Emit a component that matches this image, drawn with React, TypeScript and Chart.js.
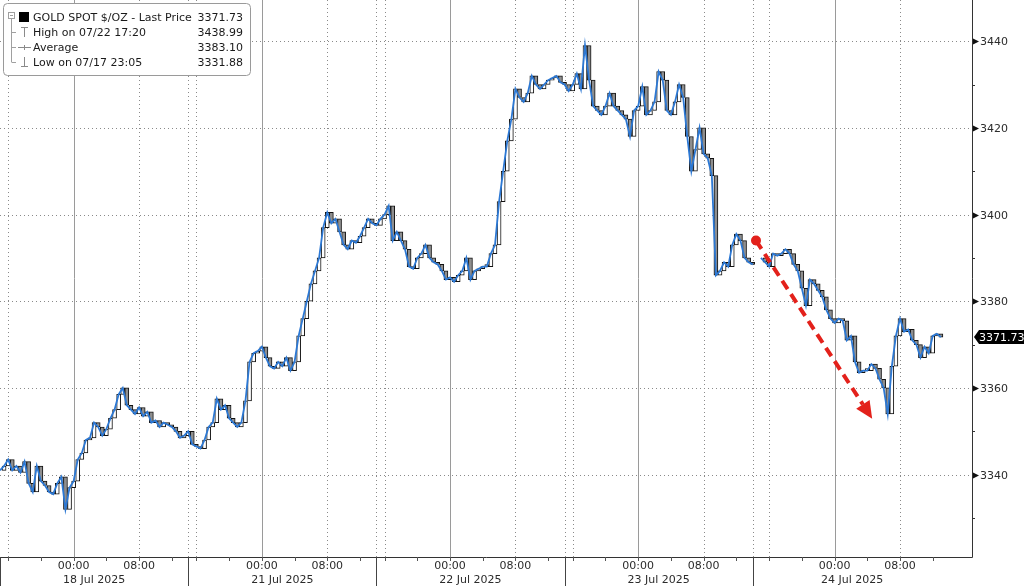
import React, { useEffect, useRef } from "react";
import { Chart, registerables } from "chart.js";

Chart.register(...registerables);

// ---------- DATA ----------
// Trading-hour axis: 0 = 17 Jul 15:00 (session open); one value every half hour of trading.
const STEP_HOURS = 0.5;
const PRICES: (number | null)[] = [
  3341, 3342, 3343.5, 3341, 3342, 3340.5, 3343, 3338, 3336, 3342,
  3338.5, 3337.5, 3336, 3335.5, 3338, 3339.5, 3332, 3337, 3338.5, 3343.5,
  3345, 3348, 3348.5, 3352, 3351, 3349, 3350.5, 3353, 3355, 3358.5,
  3360, 3356, 3355, 3354, 3355.5, 3353.5, 3354.5, 3352, 3352.5, 3351,
  3352, 3351.5, 3351, 3350, 3348.5, 3349, 3350, 3347, 3346.5, 3346,
  3348, 3351, 3352, 3357.5, 3355, 3356, 3353, 3352, 3351, 3352,
  3357, 3366, 3368, 3368.5, 3369.5, 3367, 3365, 3364.5, 3366, 3365,
  3367, 3364, 3366, 3372, 3376, 3380, 3384, 3387, 3390, 3397,
  3400.5, 3398, 3399, 3396, 3393, 3392, 3394, 3393.5, 3395, 3397,
  3399, 3398, 3397.5, 3399, 3400, 3402, 3394, 3396, 3394, 3392,
  3388, 3387.5, 3390, 3391, 3393, 3390, 3389, 3388.5, 3387, 3385,
  3385.5, 3384.5, 3386, 3387, 3390, 3385, 3387, 3387.5, 3388, 3388,
  3391, 3393, 3403, 3410, 3417, 3422, 3429, 3427, 3426, 3428,
  3432, 3430, 3429, 3430, 3431, 3431.5, 3432, 3430.5, 3430, 3428.5,
  3430, 3432.5, 3429, 3439, 3431, 3425, 3424, 3423, 3425, 3428,
  3425, 3424, 3423, 3422, 3418, 3424, 3425, 3429.5, 3423, 3424,
  3426, 3433, 3431, 3424, 3423, 3426, 3430, 3427, 3418, 3410,
  3415, 3420, 3414, 3413, 3409, 3386, 3387, 3389, 3388, 3393,
  3395.5, 3394, 3390, 3389, 3388.5, null, 3390, 3389, 3388, 3391,
  3390.5, 3391, 3392, 3391, 3388.5, 3387, 3383, 3379, 3385, 3384,
  3382.5, 3381, 3378, 3376, 3375, 3376, 3375.5, 3371, 3372, 3366,
  3363.5, 3364, 3364, 3365.5, 3364.5, 3362, 3360, 3354, 3365, 3372,
  3376, 3373, 3373.5, 3371, 3370, 3367, 3369.5, 3368, 3372, 3372.5,
  3371.73,
];

const Y_MIN = 3321;
const Y_MAX = 3449.5;
const X_MAX = 118.8;
const Y_TICKS = [3340, 3360, 3380, 3400, 3420, 3440];
const Y_MINOR_TICKS = [3330, 3350, 3370, 3390, 3410, 3430];

const MIDNIGHT_HOURS = [9, 32, 55, 78, 102];
const EIGHT_HOURS = [17, 40, 63, 86, 110];
const SIXTEEN_HOURS = [1, 24, 47, 70, 94];
const SESSION_BREAKS = [23, 46, 69, 92];
const SESSION_BOUNDS = [0, 23, 46, 69, 92, 116.3];
const DATE_LABELS = ["18 Jul 2025", "21 Jul 2025", "22 Jul 2025", "23 Jul 2025", "24 Jul 2025"];
const MINOR_X_TICKS = [
  1, 5, 9, 13, 17, 21, 24, 28, 32, 36, 40, 44, 47, 51, 55, 59, 63, 67,
  70, 74, 78, 82, 86, 90, 94, 98, 102, 106, 110, 114,
];

const LAST_PRICE = 3371.73;
const LEGEND_LABELS = ["GOLD SPOT $/OZ - Last Price", "High on 07/22 17:20", "Average", "Low on 07/17 23:05"];
const LEGEND_VALUES = ["3371.73", "3438.99", "3383.10", "3331.88"];

const ARROW_FROM = { x: 92.4, y: 3394.0 };
const ARROW_TO = { x: 106.6, y: 3352.9 };

// ---------- STYLE ----------
const FONT = "11px 'DejaVu Sans', Tahoma, sans-serif";
const TEXT = "#2b2b2b";
const LINE_BLUE = "#2c78d4";

const decorPlugin = {
  id: "bbgDecor",
  beforeDatasetsDraw(chart: any) {
    const { ctx, chartArea: a, scales } = chart;
    const x = scales.x;
    const y = scales.y;
    ctx.save();
    ctx.lineWidth = 1;
    ctx.strokeStyle = "#8a8a8a";
    ctx.setLineDash([1, 3]);
    Y_TICKS.forEach((v) => {
      const py = Math.round(y.getPixelForValue(v)) + 0.5;
      ctx.beginPath();
      ctx.moveTo(a.left, py);
      ctx.lineTo(a.right, py);
      ctx.stroke();
    });
    [...SIXTEEN_HOURS, ...EIGHT_HOURS, ...SESSION_BREAKS].forEach((h) => {
      const px = Math.round(x.getPixelForValue(h)) + 0.5;
      ctx.beginPath();
      ctx.moveTo(px, a.top);
      ctx.lineTo(px, a.bottom);
      ctx.stroke();
    });
    ctx.setLineDash([]);
    ctx.strokeStyle = "#9a9a9a";
    MIDNIGHT_HOURS.forEach((h) => {
      const px = Math.round(x.getPixelForValue(h)) + 0.5;
      ctx.beginPath();
      ctx.moveTo(px, a.top);
      ctx.lineTo(px, a.bottom);
      ctx.stroke();
    });
    ctx.restore();
  },
  afterDatasetsDraw(chart: any) {
    const { ctx, chartArea: a, scales } = chart;
    const x = scales.x;
    const y = scales.y;
    const W = chart.width;
    const H = chart.height;
    ctx.save();

    // red dashed arrow annotation
    const x1 = x.getPixelForValue(ARROW_FROM.x);
    const y1 = y.getPixelForValue(ARROW_FROM.y);
    const x2 = x.getPixelForValue(ARROW_TO.x);
    const y2 = y.getPixelForValue(ARROW_TO.y);
    const ang = Math.atan2(y2 - y1, x2 - x1);
    const headLen = 17;
    const headW = 8;
    const bx = x2 - headLen * Math.cos(ang);
    const by = y2 - headLen * Math.sin(ang);
    ctx.strokeStyle = "#e3211b";
    ctx.fillStyle = "#e3211b";
    ctx.lineWidth = 4;
    ctx.setLineDash([10, 6]);
    ctx.beginPath();
    ctx.moveTo(x1, y1);
    ctx.lineTo(bx, by);
    ctx.stroke();
    ctx.setLineDash([]);
    ctx.beginPath();
    ctx.arc(x1, y1, 5, 0, Math.PI * 2);
    ctx.fill();
    ctx.beginPath();
    ctx.moveTo(x2, y2);
    ctx.lineTo(bx + headW * Math.sin(ang), by - headW * Math.cos(ang));
    ctx.lineTo(bx - headW * Math.sin(ang), by + headW * Math.cos(ang));
    ctx.closePath();
    ctx.fill();

    // axes lines
    ctx.lineWidth = 1;
    ctx.strokeStyle = "#333";
    ctx.beginPath();
    ctx.moveTo(a.right + 0.5, 0);
    ctx.lineTo(a.right + 0.5, a.bottom + 0.5);
    ctx.moveTo(a.left, a.bottom + 0.5);
    ctx.lineTo(a.right + 0.5, a.bottom + 0.5);
    ctx.stroke();

    // right axis ticks & labels
    ctx.font = FONT;
    ctx.textBaseline = "middle";
    ctx.textAlign = "left";
    Y_TICKS.forEach((v) => {
      const py = Math.round(y.getPixelForValue(v)) + 0.5;
      ctx.fillStyle = "#111";
      ctx.beginPath();
      ctx.moveTo(a.right + 1, py - 3);
      ctx.lineTo(a.right + 1, py + 3);
      ctx.lineTo(a.right + 7, py);
      ctx.closePath();
      ctx.fill();
      ctx.fillStyle = TEXT;
      ctx.fillText(String(v), a.right + 8, py + 1);
    });
    ctx.strokeStyle = "#333";
    Y_MINOR_TICKS.forEach((v) => {
      const py = Math.round(y.getPixelForValue(v)) + 0.5;
      ctx.beginPath();
      ctx.moveTo(a.right, py);
      ctx.lineTo(a.right + 3, py);
      ctx.stroke();
    });

    // last price tag
    const lp = Math.round(y.getPixelForValue(LAST_PRICE));
    ctx.fillStyle = "#000";
    ctx.beginPath();
    ctx.moveTo(a.right + 2, lp);
    ctx.lineTo(a.right + 7, lp - 7);
    ctx.lineTo(W, lp - 7);
    ctx.lineTo(W, lp + 7);
    ctx.lineTo(a.right + 7, lp + 7);
    ctx.closePath();
    ctx.fill();
    ctx.fillStyle = "#fff";
    ctx.fillText(LAST_PRICE.toFixed(2), a.right + 7, lp + 1);

    // bottom axis: minor ticks
    ctx.strokeStyle = "#555";
    MINOR_X_TICKS.forEach((h) => {
      const px = Math.round(x.getPixelForValue(h)) + 0.5;
      ctx.beginPath();
      ctx.moveTo(px, a.bottom);
      ctx.lineTo(px, a.bottom + 4);
      ctx.stroke();
    });
    ctx.strokeStyle = "#444";
    [0, ...SESSION_BREAKS].forEach((h) => {
      const px = Math.round(x.getPixelForValue(h)) + 0.5;
      ctx.beginPath();
      ctx.moveTo(px, a.bottom);
      ctx.lineTo(px, H);
      ctx.stroke();
    });
    ctx.fillStyle = TEXT;
    ctx.textAlign = "center";
    MIDNIGHT_HOURS.forEach((h) => ctx.fillText("00:00", x.getPixelForValue(h), a.bottom + 9));
    EIGHT_HOURS.forEach((h) => ctx.fillText("08:00", x.getPixelForValue(h), a.bottom + 9));
    DATE_LABELS.forEach((lbl, i) => {
      const c = (x.getPixelForValue(SESSION_BOUNDS[i]) + x.getPixelForValue(SESSION_BOUNDS[i + 1])) / 2;
      ctx.fillText(lbl, c, a.bottom + 23);
    });

    // legend box
    ctx.fillStyle = "#fff";
    ctx.strokeStyle = "#9a9a9a";
    ctx.beginPath();
    (ctx as any).roundRect(3.5, 3.5, 247, 72, 4);
    ctx.fill();
    ctx.stroke();
    const rows = [17, 32, 47, 62];
    ctx.strokeStyle = "#a0a0a0";
    ctx.strokeRect(8.5, 12.5, 6, 6);
    ctx.beginPath();
    ctx.moveTo(10, 15.5);
    ctx.lineTo(13, 15.5);
    ctx.moveTo(11.5, 19);
    ctx.lineTo(11.5, 62);
    [32, 47, 62].forEach((ry) => {
      ctx.moveTo(11.5, ry + 0.5);
      ctx.lineTo(16, ry + 0.5);
    });
    ctx.stroke();
    ctx.fillStyle = "#000";
    ctx.fillRect(19, 12, 10, 10);
    ctx.strokeStyle = "#8a8a8a";
    ctx.beginPath();
    ctx.moveTo(21, 27.5);
    ctx.lineTo(28, 27.5);
    ctx.moveTo(24.5, 27.5);
    ctx.lineTo(24.5, 37);
    ctx.moveTo(18, 47.5);
    ctx.lineTo(31, 47.5);
    ctx.moveTo(24.5, 45);
    ctx.lineTo(24.5, 50);
    ctx.moveTo(24.5, 57);
    ctx.lineTo(24.5, 66.5);
    ctx.moveTo(21, 66.5);
    ctx.lineTo(28, 66.5);
    ctx.stroke();
    ctx.fillStyle = "#1a1a1a";
    rows.forEach((ry, i) => {
      ctx.textAlign = "left";
      ctx.fillText(LEGEND_LABELS[i], 33, ry + 1);
      ctx.textAlign = "right";
      ctx.fillText(LEGEND_VALUES[i], 243, ry + 1);
    });
    ctx.restore();
  },
};

export default function App() {
  const ref = useRef<HTMLCanvasElement | null>(null);

  useEffect(() => {
    if (!ref.current) return;
    const points = PRICES.map((p, i) => ({ x: i * STEP_HOURS, y: p }));
    const candles: any[] = [];
    const candleColors: string[] = [];
    PRICES.forEach((p, i) => {
      const prev = i > 0 ? PRICES[i - 1] : null;
      if (p == null || prev == null) return;
      candles.push({ x: i * STEP_HOURS, y: [prev, p] });
      candleColors.push(p >= prev ? "#ffffff" : "#8f8f8f");
    });

    const chart = new Chart(ref.current, {
      type: "bar",
      data: {
        datasets: [
          {
            type: "line",
            data: points as any,
            borderColor: LINE_BLUE,
            borderWidth: 1.8,
            pointRadius: 0,
            spanGaps: false,
            tension: 0,
            order: 0,
          } as any,
          {
            type: "bar",
            data: candles,
            backgroundColor: candleColors,
            borderColor: "#111",
            borderWidth: 1,
            borderSkipped: false,
            barThickness: 4,
            minBarLength: 2,
            order: 1,
          } as any,
        ],
      },
      options: {
        animation: false,
        responsive: false,
        maintainAspectRatio: false,
        layout: { padding: { left: 0, top: 0, right: 52, bottom: 29 } },
        plugins: { legend: { display: false }, tooltip: { enabled: false } },
        scales: {
          x: { type: "linear", display: false, min: 0, max: X_MAX, offset: false },
          y: { type: "linear", display: false, min: Y_MIN, max: Y_MAX },
        },
      },
      plugins: [decorPlugin],
    });
    return () => chart.destroy();
  }, []);

  return (
    <div style={{ position: "fixed", left: 0, top: 0, width: 1024, height: 586, background: "#fff" }}>
      <canvas ref={ref} width={1024} height={586} style={{ display: "block" }} />
    </div>
  );
}
